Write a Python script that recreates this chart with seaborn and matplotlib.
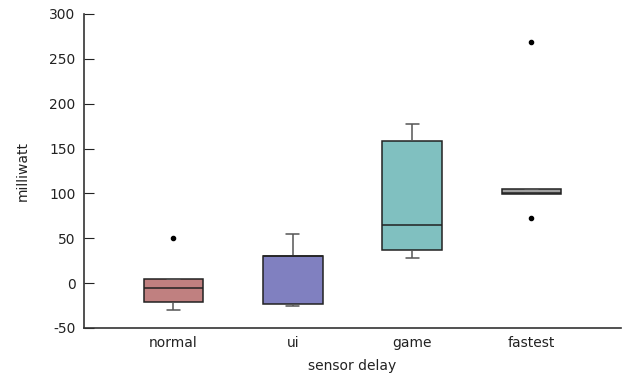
import matplotlib
matplotlib.use("Agg")
import matplotlib.pyplot as plt
import seaborn as sns
import pandas as pd

normal = [-30, -25, -21.4, -12, -5.8, 0, 4.2, 4.5, 50]
ui = [-25, -24, -23.3, -5, 30, 30.2, 30.5, 42, 54.4]
game = [28, 31, 36.5, 50, 64.4, 110, 158.4, 170, 177.7]
fastest = [72.6, 99, 99, 99.5, 100, 101, 104.5, 104.5, 268.8]

categories = ["normal", "ui", "game", "fastest"]
colors = ["#c08080", "#8080c0", "#80c0c0", "#a0a0a0"]

rows = []
for name, vals in zip(categories, [normal, ui, game, fastest]):
    for v in vals:
        rows.append({"sensor delay": name, "milliwatt": v})
df = pd.DataFrame(rows)

sns.set_style("ticks")
plt.rcParams['font.family'] = ['DejaVu Sans']
plt.rcParams['axes.unicode_minus'] = False

fig = plt.figure(figsize=(6.26, 3.79), dpi=100)
ax = fig.add_axes([0.134, 0.1346, 0.858, 0.8285])

sns.boxplot(data=df, x="sensor delay", y="milliwatt", hue="sensor delay",
            order=categories, palette=colors, width=0.5, saturation=1,
            linewidth=1.1, linecolor="#222222", dodge=False, legend=False,
            whis=1.5, capwidths=0.11,
            flierprops=dict(marker="o", markersize=3, markerfacecolor="black",
                            markeredgecolor="black"),
            whiskerprops=dict(color="#555555"),
            capprops=dict(color="#555555"),
            medianprops=dict(color="#222222"),
            ax=ax)

ax.set_xlim(-0.75, 3.75)
ax.set_ylim(-50, 300)
ax.set_yticks([-50, 0, 50, 100, 150, 200, 250, 300])
ax.tick_params(axis="y", direction="in", length=7, labelsize=10, colors="#222222", pad=6)
ax.tick_params(axis="x", length=0, labelsize=10, pad=6, colors="#222222")
ax.set_xlabel("sensor delay", fontsize=10, labelpad=6, color="#222222")
ax.set_ylabel("milliwatt", fontsize=10, labelpad=14, color="#222222")
sns.despine(ax=ax)
for s in ["left", "bottom"]:
    ax.spines[s].set_color("#333333")
    ax.spines[s].set_linewidth(1.2)

fig.savefig("out.png", dpi=100)
